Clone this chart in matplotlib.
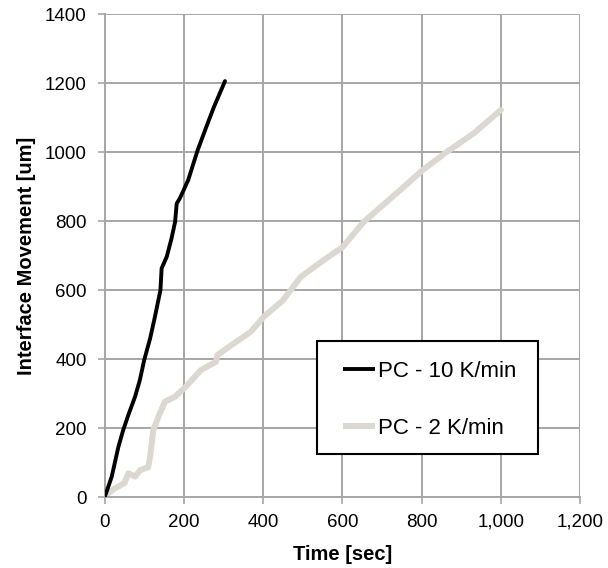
import matplotlib
matplotlib.use("Agg")
import matplotlib.pyplot as plt
from matplotlib.patches import Rectangle
from matplotlib.ticker import FuncFormatter

plt.rcParams['font.family'] = ['Liberation Sans', 'DejaVu Sans']

# PC heated at 10 K/min
time_10k = [0, 5, 18, 35, 47, 60, 77, 89, 100, 115, 127, 141, 144, 157, 169,
            178, 182, 190, 211, 235, 260, 276, 304]
move_10k = [0, 15, 59, 146, 194, 238, 291, 339, 397, 460, 522, 600, 663, 697,
            750, 798, 851, 866, 919, 1006, 1083, 1131, 1206]

# PC heated at 2 K/min
time_2k = [0, 5, 26, 50, 60, 77, 90, 110, 115, 123, 136, 152, 178, 205, 243,
           281, 285, 327, 369, 402, 450, 495, 553, 601, 654, 700, 750, 803,
           864, 931, 1000]
move_2k = [0, 6, 25, 40, 69, 59, 78, 86, 117, 194, 233, 276, 291, 320, 368,
           392, 412, 446, 479, 523, 570, 638, 687, 725, 798, 844, 894, 948,
           1001, 1054, 1122]

x_ticks = [0, 200, 400, 600, 800, 1000, 1200]
y_ticks = [0, 200, 400, 600, 800, 1000, 1200, 1400]

grid_col = '#a6a6a6'

fig = plt.figure(figsize=(6.08, 5.68), dpi=100)
ax = fig.add_axes([0.172, 0.125, 0.782, 0.850])

ax.plot(time_10k, move_10k, color='black', lw=2.8, label='PC - 10 K/min',
        solid_capstyle='round', solid_joinstyle='round', zorder=3)
ax.plot(time_2k, move_2k, color='#dcd8d1', lw=4.3, label='PC - 2 K/min',
        solid_capstyle='round', solid_joinstyle='round', zorder=2)

ax.set_xlim(0, 1200)
ax.set_ylim(0, 1400)
ax.set_xticks(x_ticks)
ax.set_yticks(y_ticks)
ax.xaxis.set_major_formatter(FuncFormatter(lambda v, p: f'{int(v):,}'))
ax.yaxis.set_major_formatter(FuncFormatter(lambda v, p: f'{int(v)}'))

ax.grid(True, color=grid_col, lw=1.4, zorder=0)
ax.set_axisbelow(True)
for s in ['top', 'right']:
    ax.spines[s].set_visible(False)
for s in ['left', 'bottom']:
    ax.spines[s].set_color(grid_col)
    ax.spines[s].set_linewidth(1.4)

ax.tick_params(axis='both', direction='out', color=grid_col, width=1.2,
               length=5, labelsize=13.5)
ax.tick_params(axis='x', pad=7)
ax.tick_params(axis='y', pad=8)

ax.set_xlabel('Time [sec]', fontsize=14.5, fontweight='bold', labelpad=10)
ax.set_ylabel('Interface Movement [um]', fontsize=14.5, fontweight='bold',
              labelpad=6)

# legend entries without their own frame; the box is drawn separately
leg = ax.legend(loc='center left', bbox_to_anchor=(0.501, 0.201),
                fontsize=16, frameon=False, handlelength=1.45,
                handletextpad=0.12, labelspacing=1.6, borderpad=0,
                borderaxespad=0)
for h in leg.get_lines():
    h.set_solid_capstyle('butt')
leg.set_zorder(6)

frame = Rectangle((0.446, 0.089), 0.465, 0.234, transform=ax.transAxes,
                  facecolor='white', edgecolor='black', lw=1.5, zorder=5)
ax.add_patch(frame)

fig.savefig('out.png', dpi=100)
